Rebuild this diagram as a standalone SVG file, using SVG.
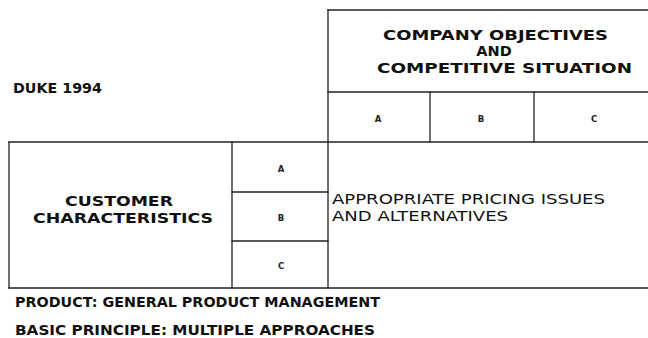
<svg xmlns="http://www.w3.org/2000/svg" width="648" height="338" viewBox="0 0 648 338">
  <style>
    .ln { stroke: #222; stroke-width: 1.3; fill: none; stroke-linecap: square; }
    .hd { font-family: "DejaVu Sans", Verdana, sans-serif; font-weight: bold; fill: #111; }
    .tx { font-family: "DejaVu Sans", Verdana, sans-serif; fill: #111; }
    .cell { font-family: "DejaVu Sans", Verdana, sans-serif; font-size: 8.5px; font-weight: bold; fill: #222; text-anchor: middle; }
  </style>
  <rect width="648" height="338" fill="#fff"/>

  <!-- Matrix grid lines -->
  <g id="connectors">
    <line class="ln" x1="328" y1="10" x2="648" y2="10"/>
    <line class="ln" x1="328" y1="10" x2="328" y2="288"/>
    <line class="ln" x1="328" y1="92" x2="648" y2="92"/>
    <line class="ln" x1="430" y1="92" x2="430" y2="142"/>
    <line class="ln" x1="534" y1="92" x2="534" y2="142"/>
    <line class="ln" x1="9" y1="142" x2="648" y2="142"/>
    <line class="ln" x1="9" y1="142" x2="9" y2="288"/>
    <line class="ln" x1="232" y1="142" x2="232" y2="288"/>
    <line class="ln" x1="232" y1="192" x2="328" y2="192"/>
    <line class="ln" x1="232" y1="241" x2="328" y2="241"/>
    <line class="ln" x1="9" y1="288" x2="648" y2="288"/>
  </g>

  <g id="title">
    <text class="hd" x="13" y="93" font-size="13.5" textLength="89" lengthAdjust="spacingAndGlyphs">DUKE 1994</text>
  </g>

  <g id="company">
    <text class="hd" x="383" y="40" font-size="14.5" textLength="225" lengthAdjust="spacingAndGlyphs">COMPANY OBJECTIVES</text>
    <text class="hd" x="494" y="56" font-size="14.5" text-anchor="middle">AND</text>
    <text class="hd" x="377" y="73" font-size="14.5" textLength="255" lengthAdjust="spacingAndGlyphs">COMPETITIVE SITUATION</text>
  </g>

  <g id="company-cells">
    <text class="cell" x="378" y="122">A</text>
    <text class="cell" x="481" y="122">B</text>
    <text class="cell" x="594" y="122">C</text>
  </g>

  <g id="customer">
    <text class="hd" x="65" y="206" font-size="14.5" textLength="108" lengthAdjust="spacingAndGlyphs">CUSTOMER</text>
    <text class="hd" x="33" y="223" font-size="14.5" textLength="180" lengthAdjust="spacingAndGlyphs">CHARACTERISTICS</text>
  </g>

  <g id="customer-cells">
    <text class="cell" x="281" y="172">A</text>
    <text class="cell" x="281" y="221">B</text>
    <text class="cell" x="281" y="269">C</text>
  </g>

  <g id="pricing">
    <text class="tx" x="332" y="204" font-size="13.5" textLength="273" lengthAdjust="spacingAndGlyphs">APPROPRIATE PRICING ISSUES</text>
    <text class="tx" x="332" y="221" font-size="13.5" textLength="176" lengthAdjust="spacingAndGlyphs">AND ALTERNATIVES</text>
  </g>

  <g id="footer">
    <text class="hd" x="15" y="307" font-size="13.5" font-weight="600" textLength="365" lengthAdjust="spacingAndGlyphs">PRODUCT: GENERAL PRODUCT MANAGEMENT</text>
    <text class="hd" x="15" y="335" font-size="13.5" textLength="360" lengthAdjust="spacingAndGlyphs">BASIC PRINCIPLE: MULTIPLE APPROACHES</text>
  </g>
</svg>
